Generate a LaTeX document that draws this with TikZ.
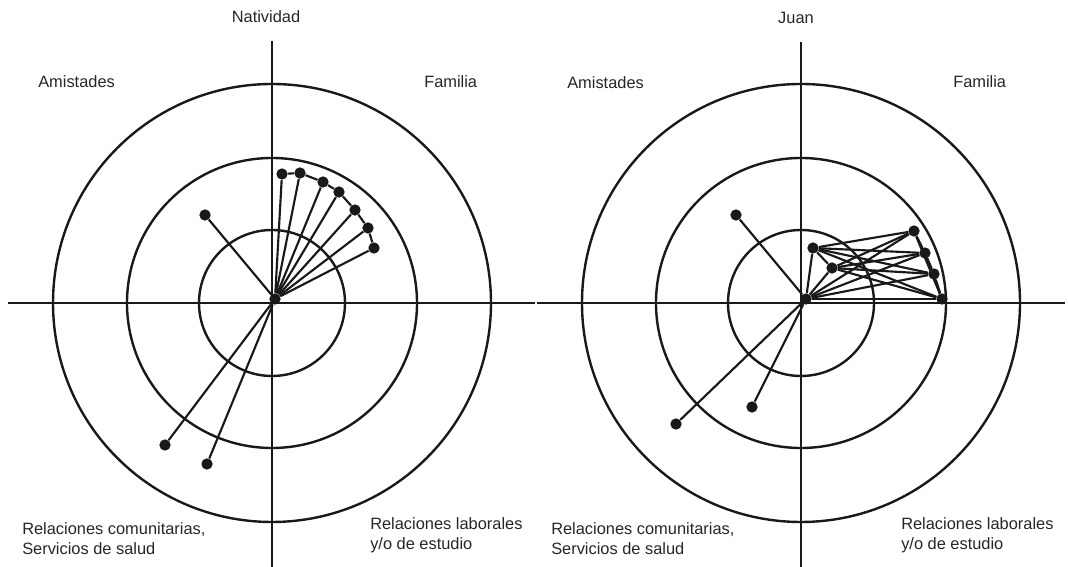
\documentclass[tikz,border=0pt]{standalone}
\usepackage{fontspec}
\setmainfont{Liberation Sans}

\begin{document}
\begin{tikzpicture}[x=0.75pt,y=0.75pt,
	ring/.style={line width=1.8pt, color=black!90},
	axis/.style={line width=1.8pt, color=black!90},
	tie/.style={line width=1.6pt, color=black!90},
	dot/.style={circle, fill=black!90, inner sep=0pt, minimum size=8.5pt},
	lbl/.style={inner sep=0pt, text=black!85, font=\fontsize{12.3}{15}\selectfont, align=left}]
			\useasboundingbox (0,0) rectangle (1068,567);
			
			%%%%% NATIVIDAD %%%%%
			\begin{scope}[shift={(272,264)}]
			\draw[axis] (-264,0) -- (263,0);
			\draw[axis] (0,262) -- (0,-264);
			\draw[ring] (0,0) circle (219);
			\draw[ring] (0,0) circle (145);
			\draw[ring] (0,0) circle (73);
			
			\node[lbl, anchor=base] (natName) at (-6,280) {Natividad};
			\node[lbl, anchor=base west] (natAmi) at (-234,215) {Amistades};
			\node[lbl, anchor=base west] (natFam) at (152,215) {Familia};
			\node[lbl, anchor=north west] (natCom) at (-250,-219) {Relaciones comunitarias,\\Servicios de salud};
			\node[lbl, anchor=north west] (natLab) at (98,-214) {Relaciones laborales\\y/o de estudio};
			
			\node[dot] (natHub) at (3,4) {};
			\node[dot] (natF1) at (10,129) {};
			\node[dot] (natF2) at (28,130) {};
			\node[dot] (natF3) at (51,121) {};
			\node[dot] (natF4) at (67,111) {};
			\node[dot] (natF5) at (83,93) {};
			\node[dot] (natF6) at (96,75) {};
			\node[dot] (natF7) at (102,55) {};
			\node[dot] (natA1) at (-67,88) {};
			\node[dot] (natC1) at (-107,-142) {};
			\node[dot] (natC2) at (-65,-161) {};
			
			\draw[tie] (natHub) -- (natF1);
			\draw[tie] (natHub) -- (natF2);
			\draw[tie] (natHub) -- (natF3);
			\draw[tie] (natHub) -- (natF4);
			\draw[tie] (natHub) -- (natF5);
			\draw[tie] (natHub) -- (natF6);
			\draw[tie] (natHub) -- (natF7);
			\draw[tie] (natF1) -- (natF2) -- (natF3) -- (natF4) -- (natF5) -- (natF6) -- (natF7);
			\draw[tie] (natHub) -- (natA1);
			\draw[tie] (natHub) -- (natC1);
			\draw[tie] (natHub) -- (natC2);
			\end{scope}
			
			%%%%% JUAN %%%%%
			\begin{scope}[shift={(801,264)}]
			\draw[axis] (-264,0) -- (264,0);
			\draw[axis] (0,261) -- (0,-264);
			\draw[ring] (0,0) circle (219);
			\draw[ring] (0,0) circle (145);
			\draw[ring] (0,0) circle (73);
			
			\node[lbl, anchor=base] (juaName) at (-5,279) {Juan};
			\node[lbl, anchor=base west] (juaAmi) at (-234,214) {Amistades};
			\node[lbl, anchor=base west] (juaFam) at (152,215) {Familia};
			\node[lbl, anchor=north west] (juaCom) at (-250,-219) {Relaciones comunitarias,\\Servicios de salud};
			\node[lbl, anchor=north west] (juaLab) at (100,-214) {Relaciones laborales\\y/o de estudio};
			
			\node[dot] (juaHub) at (5,4) {};
			\node[dot] (juaF1) at (12,55) {};
			\node[dot] (juaF2) at (31,35) {};
			\node[dot] (juaF3) at (113,72) {};
			\node[dot] (juaF4) at (124,50) {};
			\node[dot] (juaF5) at (133,29) {};
			\node[dot] (juaF6) at (141,4) {};
			\node[dot] (juaA1) at (-65,88) {};
			\node[dot] (juaC1) at (-125,-121) {};
			\node[dot] (juaC2) at (-49,-104) {};
			
			\draw[tie] (juaHub) -- (juaF1);
			\draw[tie] (juaHub) -- (juaF2);
			\draw[tie] (juaHub) -- (juaF3);
			\draw[tie] (juaHub) -- (juaF4);
			\draw[tie] (juaHub) -- (juaF5);
			\draw[tie] (juaHub) -- (juaF6);
			\draw[tie] (juaF1) -- (juaF2);
			\draw[tie] (juaF1) -- (juaF3);
			\draw[tie] (juaF1) -- (juaF4);
			\draw[tie] (juaF1) -- (juaF5);
			\draw[tie] (juaF1) -- (juaF6);
			\draw[tie] (juaF2) -- (juaF3);
			\draw[tie] (juaF2) -- (juaF4);
			\draw[tie] (juaF2) -- (juaF5);
			\draw[tie] (juaF2) -- (juaF6);
			\draw[tie] (juaF3) -- (juaF4);
			\draw[tie] (juaF3) -- (juaF5);
			\draw[tie] (juaF3) -- (juaF6);
			\draw[tie] (juaF4) -- (juaF5);
			\draw[tie] (juaF4) -- (juaF6);
			\draw[tie] (juaF5) -- (juaF6);
			\draw[tie] (juaHub) -- (juaA1);
			\draw[tie] (juaHub) -- (juaC1);
			\draw[tie] (juaHub) -- (juaC2);
			\end{scope}
			
\end{tikzpicture}
\end{document}
